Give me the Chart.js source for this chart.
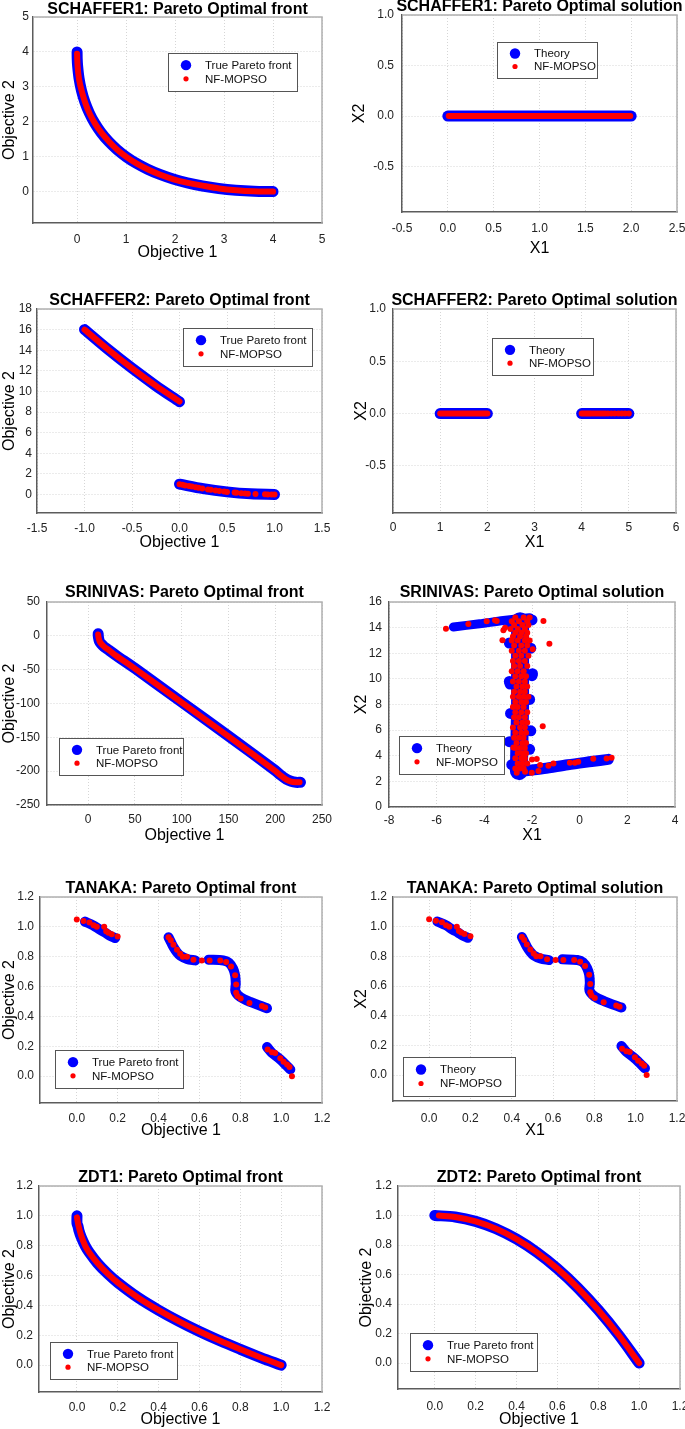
<!DOCTYPE html>
<html>
<head>
<meta charset="utf-8">
<script src="https://cdn.jsdelivr.net/npm/chart.js@4.4.1/dist/chart.umd.min.js"></script>
<style>
  html, body { margin: 0; padding: 0; background: #fff; }
  #page { position: relative; width: 685px; height: 1429px; overflow: hidden; }
  #page canvas { position: absolute; }
</style>
</head>
<body>
<div id="page"></div>
<script>
// ---- data ----

// SCHAFFER1
const sch1FrontTrue = [[0,4],[0.0025,3.8],[0.01,3.61],[0.04,3.24],[0.09,2.89],[0.16,2.56],[0.25,2.25],[0.36,1.96],[0.49,1.69],[0.64,1.44],[0.81,1.21],[1,1],[1.21,0.81],[1.44,0.64],[1.69,0.49],[1.96,0.36],[2.25,0.25],[2.56,0.16],[2.89,0.09],[3.24,0.04],[3.61,0.01],[4,0]];
const sch1FrontNf = [[0,3.95],[0.01,3.6],[0.04,3.22],[0.1,2.85],[0.17,2.53],[0.26,2.22],[0.37,1.94],[0.5,1.68],[0.66,1.42],[0.82,1.2],[1.02,0.98],[1.22,0.8],[1.45,0.63],[1.7,0.48],[1.97,0.35],[2.26,0.25],[2.6,0.16],[2.9,0.09],[3.25,0.04],[3.6,0.01],[4,0]];
const sch1SolTrue = [[0,0],[2,0]];
const sch1SolNf = [[0.01,0],[1.99,0]];

// SCHAFFER2
const sch2FrontTrueA = [[-1,16],[-0.75,14.06],[-0.5,12.25],[-0.25,10.56],[0,9]];
const sch2FrontTrueB = [[0,1],[0.25,0.56],[0.5,0.25],[0.75,0.06],[1,0]];
const sch2FrontNfA = [[-1,16],[-0.75,14.06],[-0.5,12.25],[-0.25,10.56],[0,9.02]];
const sch2FrontNfB = [[0,1],[0.03,0.94],[0.06,0.88],[0.1,0.81],[0.13,0.76],[0.17,0.69],[0.2,0.64],[0.24,0.58],[0.3,0.49],[0.33,0.45],[0.38,0.38],[0.42,0.34],[0.47,0.28],[0.5,0.25],[0.58,0.18],[0.6,0.16],[0.65,0.12],[0.69,0.1],[0.72,0.08],[0.8,0.04],[0.9,0.01],[0.93,0.005],[0.97,0.001],[1,0]];
const sch2SolTrueA = [[1,0],[2,0]];
const sch2SolTrueB = [[4,0],[5,0]];
const sch2SolNfA = [[1,0],[2,0]];
const sch2SolNfB = [[4,0],[4.04,0],[4.08,0],[4.12,0],[4.16,0],[4.2,0],[4.25,0],[4.3,0],[4.35,0],[4.4,0],[4.45,0],[4.5,0],[4.56,0],[4.63,0],[4.7,0],[4.78,0],[4.85,0],[4.92,0],[5,0]];

// SRINIVAS
const srinFrontTrue = [[10.7,3],[11,-2],[12,-8],[14,-12],[17,-16],[22,-21],[30,-29],[50,-48],[100,-98],[150,-148],[200,-199],[206,-206],[212,-212],[217,-215],[222,-216.5],[227,-216.5]];
const srinFrontNf = [[10.7,2],[11.2,-3],[12.4,-8.5],[14.5,-12.5],[17.5,-16.5],[22.5,-21.5],[30,-29.5],[50,-48.5],[100,-98.5],[150,-148.5],[200,-199.5],[206,-206.5],[212,-212.5],[217,-215.5],[222,-216.5],[226,-216.5]];
const srinSolTrueTop = [[-5.3,14.05],[-4.2,14.3],[-3.2,14.55],[-2.1,14.78]];
const srinSolTrueColumn = [[-2.55,2.8],[-2.5,8],[-2.5,14.5]];
const srinSolTrueBottom = [[-2.6,2.75],[-1.5,3.0],[-0.5,3.3],[0.5,3.55],[1.2,3.72]];
const srinSolTrueBlobs = [[-2.0,10.25],[-1.98,10.4],[-2.95,9.8],[-2.92,9.6],[-2.95,5.1],[-2.05,5.95],[-2.05,12.4],[-2.95,12.8],[-2.1,8.4],[-2.9,7.3],[-2.85,3.3],[-2.1,4.5],[-2.9,14.3],[-2.0,14.6]];
const srinSolNf = [
  [-5.61,13.92],[-4.67,14.29],[-3.9,14.49],[-3.55,14.57],[-3.48,14.52],[-3.24,13.01],[-3.2,13.79],[-3.13,14.0],
  [-1.52,14.52],[-1.27,12.75],[-1.55,6.31],[-1.97,12.31],[-1.8,3.74],[-2.0,3.71],[-2.78,4.65],
  [-2.64,2.68],[-2.29,2.75],[-2.01,2.68],[-1.73,2.81],[-1.66,3.27],[-1.31,3.22],[-1.1,3.4],[-0.41,3.45],[-0.2,3.45],[-0.06,3.53],[0.57,3.77],[1.13,3.79],[1.34,3.84],
  [-2.7,14.8],[-2.35,14.8],[-2.1,14.8],
  [-2.85,14.5],[-2.55,14.5],[-2.2,14.5],
  [-2.75,14.2],[-2.4,14.2],[-2.15,14.2],
  [-2.9,13.9],[-2.6,13.9],[-2.3,13.9],
  [-2.7,13.6],[-2.45,13.6],[-2.2,13.6],
  [-2.8,13.3],[-2.5,13.3],[-2.25,13.3],
  [-2.85,13.0],[-2.6,13.0],[-2.3,13.0],[-2.1,13.0],
  [-2.75,12.6],[-2.45,12.6],[-2.2,12.6],
  [-2.85,12.2],[-2.55,12.2],[-2.3,12.2],
  [-2.7,11.8],[-2.45,11.8],[-2.15,11.8],
  [-2.8,11.4],[-2.55,11.4],[-2.3,11.4],
  [-2.75,11.0],[-2.5,11.0],[-2.2,11.0],
  [-2.85,10.6],[-2.6,10.6],[-2.35,10.6],
  [-2.7,10.2],[-2.45,10.2],[-2.25,10.2],
  [-2.8,9.8],[-2.55,9.8],[-2.3,9.8],
  [-2.65,9.4],[-2.4,9.4],[-2.2,9.4],
  [-2.75,9.0],[-2.5,9.0],[-2.3,9.0],
  [-2.8,8.6],[-2.55,8.6],[-2.35,8.6],[-2.15,8.6],
  [-2.7,8.2],[-2.45,8.2],[-2.25,8.2],
  [-2.8,7.8],[-2.6,7.8],[-2.35,7.8],
  [-2.7,7.4],[-2.45,7.4],[-2.2,7.4],
  [-2.75,7.0],[-2.55,7.0],[-2.3,7.0],
  [-2.65,6.6],[-2.4,6.6],[-2.2,6.6],
  [-2.8,6.2],[-2.5,6.2],[-2.3,6.2],
  [-2.7,5.8],[-2.45,5.8],[-2.25,5.8],
  [-2.75,5.4],[-2.55,5.4],[-2.35,5.4],
  [-2.65,5.0],[-2.4,5.0],[-2.25,5.0],
  [-2.7,4.6],[-2.5,4.6],[-2.3,4.6],
  [-2.6,4.2],[-2.4,4.2],[-2.25,4.2],
  [-2.7,3.8],[-2.45,3.8],[-2.3,3.8],
  [-2.6,3.4],[-2.4,3.4],[-2.2,3.4],
  [-2.7,3.0],[-2.5,3.0],[-2.35,3.0]
];

// TANAKA (front and solution coincide)
const tanakaTrueA = [[0.04,1.035],[0.08,1.01],[0.114,0.98],[0.14,0.96],[0.163,0.94],[0.188,0.925]];
const tanakaTrueB = [[0.449,0.93],[0.46,0.9],[0.473,0.865],[0.49,0.83],[0.506,0.807],[0.539,0.785],[0.58,0.775]];
const tanakaTrueC = [[0.645,0.78],[0.718,0.775],[0.745,0.76],[0.765,0.72],[0.775,0.675],[0.778,0.62],[0.776,0.57],[0.8,0.53],[0.849,0.497],[0.931,0.455]];
const tanakaTrueD = [[0.931,0.195],[0.955,0.156],[0.996,0.112],[1.045,0.045]];
const tanakaNf = [
  [0.0,1.05],[0.033,1.04],[0.062,1.03],[0.082,1.01],[0.098,1.0],[0.134,1.0],[0.144,0.97],[0.155,0.96],[0.171,0.95],[0.2,0.935],
  [0.449,0.93],[0.46,0.91],[0.473,0.88],[0.49,0.846],[0.506,0.82],[0.519,0.8],[0.539,0.8],[0.571,0.78],[0.612,0.775],
  [0.65,0.775],[0.702,0.775],[0.731,0.764],[0.755,0.735],[0.775,0.676],[0.78,0.614],[0.78,0.558],[0.786,0.536],[0.802,0.52],[0.845,0.49],[0.906,0.469],[0.922,0.46],
  [0.934,0.178],[0.955,0.16],[0.971,0.155],[0.996,0.12],[1.012,0.097],[1.029,0.078],[1.041,0.062],[1.053,0.0]
];

// ZDT1 / ZDT2
const zdt1True = [[0,1],[0,0.95],[0.005,0.93],[0.01,0.9],[0.02,0.86],[0.04,0.8],[0.06,0.755],[0.1,0.684],[0.15,0.613],[0.2,0.553],[0.3,0.452],[0.4,0.368],[0.5,0.293],[0.6,0.225],[0.7,0.163],[0.8,0.106],[0.9,0.051],[1,0]];
const zdt1Nf = [[0,0.99],[0.005,0.95],[0.01,0.92],[0.02,0.87],[0.04,0.8],[0.06,0.755],[0.1,0.684],[0.15,0.613],[0.2,0.553],[0.3,0.452],[0.4,0.368],[0.5,0.293],[0.6,0.225],[0.7,0.163],[0.8,0.106],[0.9,0.051],[1,0]];
const zdt2True = [[0,1],[0.1,0.99],[0.2,0.96],[0.3,0.91],[0.4,0.84],[0.5,0.75],[0.6,0.64],[0.7,0.51],[0.8,0.36],[0.9,0.19],[1,0]];
const zdt2Nf = [[0.02,1],[0.1,0.99],[0.2,0.96],[0.3,0.91],[0.4,0.84],[0.5,0.75],[0.6,0.64],[0.7,0.51],[0.8,0.36],[0.9,0.19],[1,0]];

// tick values
const ticks0to5 = [0,1,2,3,4,5];
const ticksHalfM05to25 = [-0.5,0,0.5,1,1.5,2,2.5];
const ticksHalfM05to1 = [-0.5,0,0.5,1];
const ticksM15to15 = [-1.5,-1,-0.5,0,0.5,1,1.5];
const ticks0to18 = [0,2,4,6,8,10,12,14,16,18];
const ticks0to6 = [0,1,2,3,4,5,6];
const ticks0to250 = [0,50,100,150,200,250];
const ticksM250to50 = [-250,-200,-150,-100,-50,0,50];
const ticksM8to4 = [-8,-6,-4,-2,0,2,4];
const ticks0to16 = [0,2,4,6,8,10,12,14,16];
const ticks0to12 = [0,0.2,0.4,0.6,0.8,1,1.2];

// ---- drawing ----
const BLUE = "#0000ff";
const RED = "#ff0000";
Chart.defaults.font.family = "'Liberation Sans', Arial, sans-serif";
Chart.defaults.color = "#222";

const pts = (arr) => arr.map(([x, y]) => ({ x, y }));

function band(data, color, width) {
  return {
    data: pts(data), showLine: true, borderColor: color, backgroundColor: color,
    borderWidth: width, borderCapStyle: "round", borderJoinStyle: "round",
    pointRadius: 0, tension: 0.3, fill: false
  };
}

function dots(data, color, r) {
  return {
    data: pts(data), showLine: false, backgroundColor: color, borderColor: color,
    borderWidth: 0, pointRadius: r, pointHoverRadius: r
  };
}

const panelDecor = {
  id: "panelDecor",
  beforeDatasetsDraw(chart) {
    const { ctx, chartArea: a } = chart;
    ctx.save();
    ctx.strokeStyle = "#b0b0b0";
    ctx.lineWidth = 1.5;
    ctx.beginPath();
    ctx.moveTo(a.left, a.top);
    ctx.lineTo(a.right, a.top);
    ctx.lineTo(a.right, a.bottom);
    ctx.stroke();
    ctx.restore();
  },
  afterDraw(chart, args, opts) {
    const { ctx, chartArea: a } = chart;
    ctx.save();
    ctx.fillStyle = "#000";
    ctx.font = "bold 16px 'Liberation Sans', Arial, sans-serif";
    ctx.textAlign = "center";
    ctx.textBaseline = "alphabetic";
    ctx.fillText(opts.title, (a.left + a.right) / 2, opts.titleY);

    const lg = opts.legend;
    const bx = a.left + lg.x, by = a.top + lg.y;
    ctx.fillStyle = "#fff";
    ctx.fillRect(bx, by, lg.w, lg.h);
    ctx.strokeStyle = "#555";
    ctx.lineWidth = 1;
    ctx.strokeRect(bx + 0.5, by + 0.5, lg.w, lg.h);
    ctx.font = "11.5px 'Liberation Sans', Arial, sans-serif";
    ctx.textAlign = "left";
    ctx.textBaseline = "middle";
    const rows = [lg.h * 0.32, lg.h * 0.68];
    const entries = [
      { label: lg.labels[0], color: BLUE, r: 5.2 },
      { label: "NF-MOPSO", color: RED, r: 2.6 }
    ];
    entries.forEach((e, i) => {
      ctx.fillStyle = e.color;
      ctx.beginPath();
      ctx.arc(bx + 18, by + rows[i], e.r, 0, Math.PI * 2);
      ctx.fill();
      ctx.fillStyle = "#111";
      ctx.fillText(e.label, bx + 37, by + rows[i] + 0.5);
    });
    ctx.restore();
  }
};

function axis(spec, fixed, horizontal) {
  return {
    type: "linear",
    position: horizontal ? "bottom" : "left",
    min: spec.min,
    max: spec.max,
    afterBuildTicks: (s) => { s.ticks = spec.ticks.map((v) => ({ value: v })); },
    afterFit: (s) => {
      if (horizontal) { s.height = fixed; s.paddingLeft = 0; s.paddingRight = 0; }
      else { s.width = fixed; s.paddingTop = 0; s.paddingBottom = 0; }
    },
    ticks: {
      autoSkip: false, maxRotation: 0, minRotation: 0,
      padding: spec.pad,
      font: { size: 12 },
      color: "#222",
      callback: (v) => Number(v).toFixed(spec.dec)
    },
    grid: { color: "#d6d6d6", lineWidth: 1, drawTicks: false },
    border: { display: true, color: "#5c5c5c", width: 1.5, dash: [1, 2] },
    title: {
      display: true, text: spec.title, color: "#000",
      font: { size: 16 },
      padding: horizontal ? { top: 0, bottom: spec.titlePad } : { top: spec.titlePad, bottom: 0 }
    }
  };
}

function makePanel(p) {
  const [cx, cy, cw, ch] = p.cell;
  const [l, t, r, b] = p.plot;
  const canvas = document.createElement("canvas");
  canvas.width = cw;
  canvas.height = ch;
  canvas.style.left = cx + "px";
  canvas.style.top = cy + "px";
  canvas.style.width = cw + "px";
  canvas.style.height = ch + "px";
  document.getElementById("page").appendChild(canvas);

  new Chart(canvas, {
    type: "scatter",
    data: { datasets: p.datasets },
    options: {
      responsive: false,
      animation: false,
      events: [],
      layout: { padding: { left: 0, top: t - cy, right: cx + cw - r, bottom: 0 } },
      plugins: {
        legend: { display: false },
        tooltip: { enabled: false },
        panelDecor: { title: p.title, titleY: p.titleY, legend: p.legend }
      },
      scales: {
        x: axis(p.x, cy + ch - b, true),
        y: axis(p.y, l - cx, false)
      }
    },
    plugins: [panelDecor]
  });
}

const LEG_FRONT = ["True Pareto front"];
const LEG_SOL = ["Theory"];

// titleY is the title baseline inside each panel's own canvas
const panels = [
  {
    title: "SCHAFFER1: Pareto Optimal front", titleY: 14,
    cell: [0, 0, 340, 290], plot: [33, 17, 322, 223],
    x: { min: -0.9, max: 5, ticks: ticks0to5, dec: 0, pad: 9, title: "Objective 1", titlePad: 28 },
    y: { min: -0.9, max: 5, ticks: ticks0to5, dec: 0, pad: 4, title: "Objective 2", titlePad: 0 },
    legend: { x: 135, y: 36, w: 129, h: 38, labels: LEG_FRONT },
    datasets: [band(sch1FrontNf, RED, 6), band(sch1FrontTrue, BLUE, 11)]
  },
  {
    title: "SCHAFFER1: Pareto Optimal solution", titleY: 11,
    cell: [340, 0, 345, 290], plot: [402, 15, 677, 212],
    x: { min: -0.5, max: 2.5, ticks: ticksHalfM05to25, dec: 1, pad: 9, title: "X1", titlePad: 32 },
    y: { min: -0.95, max: 1, ticks: ticksHalfM05to1, dec: 1, pad: 8, title: "X2", titlePad: 10 },
    legend: { x: 95, y: 27, w: 100, h: 36, labels: LEG_SOL },
    datasets: [band(sch1SolNf, RED, 6), band(sch1SolTrue, BLUE, 11)]
  },
  {
    title: "SCHAFFER2: Pareto Optimal front", titleY: 15,
    cell: [0, 290, 340, 290], plot: [37, 309, 322, 513],
    x: { min: -1.5, max: 1.5, ticks: ticksM15to15, dec: 1, pad: 8, title: "Objective 1", titlePad: 28 },
    y: { min: -1.8, max: 18, ticks: ticks0to18, dec: 0, pad: 5, title: "Objective 2", titlePad: 0 },
    legend: { x: 146, y: 19, w: 129, h: 38, labels: LEG_FRONT },
    datasets: [band(sch2FrontNfA, RED, 6), dots(sch2FrontNfB, RED, 3), band(sch2FrontTrueA, BLUE, 11), band(sch2FrontTrueB, BLUE, 11)]
  },
  {
    title: "SCHAFFER2: Pareto Optimal solution", titleY: 15,
    cell: [340, 290, 345, 290], plot: [393, 309, 676, 513],
    x: { min: 0, max: 6, ticks: ticks0to6, dec: 0, pad: 7, title: "X1", titlePad: 28 },
    y: { min: -0.95, max: 1, ticks: ticksHalfM05to1, dec: 1, pad: 7, title: "X2", titlePad: 12 },
    legend: { x: 99, y: 29, w: 101, h: 37, labels: LEG_SOL },
    datasets: [band(sch2SolNfA, RED, 6), dots(sch2SolNfB, RED, 3), band(sch2SolTrueA, BLUE, 11), band(sch2SolTrueB, BLUE, 11)]
  },
  {
    title: "SRINIVAS: Pareto Optimal front", titleY: 17,
    cell: [0, 580, 340, 290], plot: [47, 602, 322, 805],
    x: { min: -44, max: 250, ticks: ticks0to250, dec: 0, pad: 7, title: "Objective 1", titlePad: 25 },
    y: { min: -250, max: 50, ticks: ticksM250to50, dec: 0, pad: 7, title: "Objective 2", titlePad: 0 },
    legend: { x: 12, y: 136, w: 124, h: 37, labels: LEG_FRONT },
    datasets: [band(srinFrontNf, RED, 6), band(srinFrontTrue, BLUE, 11)]
  },
  {
    title: "SRINIVAS: Pareto Optimal solution", titleY: 17,
    cell: [340, 580, 345, 290], plot: [389, 602, 675, 807],
    x: { min: -8, max: 4, ticks: ticksM8to4, dec: 0, pad: 6, title: "X1", titlePad: 25 },
    y: { min: 0, max: 16, ticks: ticks0to16, dec: 0, pad: 7, title: "X2", titlePad: 12 },
    legend: { x: 10, y: 134, w: 105, h: 38, labels: LEG_SOL },
    datasets: [
      dots(srinSolNf, RED, 3),
      dots(srinSolTrueBlobs, BLUE, 5.5),
      Object.assign(band(srinSolTrueColumn, BLUE, 18), { tension: 0 }),
      band(srinSolTrueTop, BLUE, 9),
      band(srinSolTrueBottom, BLUE, 11)
    ]
  },
  {
    title: "TANAKA: Pareto Optimal front", titleY: 23,
    cell: [0, 870, 340, 280], plot: [40, 897, 322, 1103],
    x: { min: -0.18, max: 1.2, ticks: ticks0to12, dec: 1, pad: 8, title: "Objective 1", titlePad: 10 },
    y: { min: -0.18, max: 1.2, ticks: ticks0to12, dec: 1, pad: 6, title: "Objective 2", titlePad: 0 },
    legend: { x: 15, y: 153, w: 128, h: 38, labels: LEG_FRONT },
    datasets: [dots(tanakaNf, RED, 3), band(tanakaTrueA, BLUE, 10), band(tanakaTrueB, BLUE, 10), band(tanakaTrueC, BLUE, 10), band(tanakaTrueD, BLUE, 10)]
  },
  {
    title: "TANAKA: Pareto Optimal solution", titleY: 23,
    cell: [340, 870, 345, 280], plot: [393, 897, 677, 1101],
    x: { min: -0.175, max: 1.2, ticks: ticks0to12, dec: 1, pad: 10, title: "X1", titlePad: 10 },
    y: { min: -0.175, max: 1.2, ticks: ticks0to12, dec: 1, pad: 6, title: "X2", titlePad: 12 },
    legend: { x: 10, y: 160, w: 112, h: 39, labels: LEG_SOL },
    datasets: [dots(tanakaNf, RED, 3), band(tanakaTrueA, BLUE, 10), band(tanakaTrueB, BLUE, 10), band(tanakaTrueC, BLUE, 10), band(tanakaTrueD, BLUE, 10)]
  },
  {
    title: "ZDT1: Pareto Optimal front", titleY: 32,
    cell: [0, 1150, 340, 279], plot: [39, 1186, 322, 1392],
    x: { min: -0.186, max: 1.2, ticks: ticks0to12, dec: 1, pad: 8, title: "Objective 1", titlePad: 0 },
    y: { min: -0.18, max: 1.2, ticks: ticks0to12, dec: 1, pad: 6, title: "Objective 2", titlePad: 0 },
    legend: { x: 11, y: 156, w: 127, h: 37, labels: LEG_FRONT },
    datasets: [band(zdt1Nf, RED, 6), band(zdt1True, BLUE, 11)]
  },
  {
    title: "ZDT2: Pareto Optimal front", titleY: 32,
    cell: [340, 1150, 345, 279], plot: [398, 1186, 680, 1389],
    x: { min: -0.18, max: 1.2, ticks: ticks0to12, dec: 1, pad: 10, title: "Objective 1", titlePad: 0 },
    y: { min: -0.176, max: 1.2, ticks: ticks0to12, dec: 1, pad: 6, title: "Objective 2", titlePad: 17 },
    legend: { x: 12, y: 147, w: 127, h: 38, labels: LEG_FRONT },
    datasets: [band(zdt2Nf, RED, 6), band(zdt2True, BLUE, 11)]
  }
];

panels.forEach(makePanel);
</script>
</body>
</html>
